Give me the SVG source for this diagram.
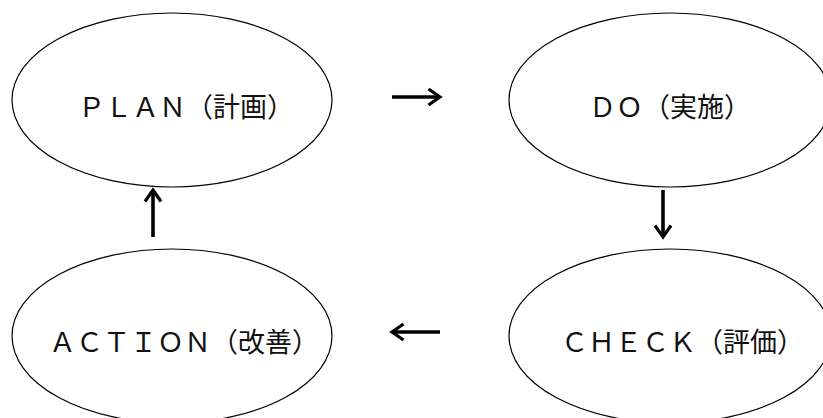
<svg xmlns="http://www.w3.org/2000/svg" width="823" height="418" viewBox="0 0 823 418">
  <style>
    .node ellipse { fill: #ffffff; stroke: #000000; stroke-width: 1.2; }
    .node text { font-family: "Noto Sans CJK JP", "Noto Sans", sans-serif; font-size: 27px; fill: #111111; }
    .conn path { fill: none; stroke: #000000; stroke-width: 3.6; }
  </style>
  <defs>
    <marker id="head" viewBox="0 0 16 20" refX="13" refY="10" markerWidth="16" markerHeight="20" markerUnits="userSpaceOnUse" orient="auto">
      <path d="M1.5,2 L13,10 L1.5,18" fill="none" stroke="#000000" stroke-width="3.2"/>
    </marker>
  </defs>
  <rect width="823" height="418" fill="#ffffff"/>
  <g id="plan" class="node">
    <ellipse cx="172" cy="100" rx="160" ry="87"/>
    <text x="78" y="117">ＰＬＡＮ（計画）</text>
  </g>
  <g id="do" class="node">
    <ellipse cx="670" cy="100" rx="161" ry="87"/>
    <text x="589" y="117">ＤＯ（実施）</text>
  </g>
  <g id="check" class="node">
    <ellipse cx="670" cy="336" rx="161" ry="87"/>
    <text x="561" y="352">ＣＨＥＣＫ（評価）</text>
  </g>
  <g id="action" class="node">
    <ellipse cx="172" cy="336" rx="160" ry="87"/>
    <text x="49" y="352">ＡＣＴＩＯＮ（改善）</text>
  </g>
  <g id="connectors" class="conn">
    <path d="M392,97 L440,97" marker-end="url(#head)"/>
    <path d="M663,190 L663,237" marker-end="url(#head)"/>
    <path d="M440,332 L392,332" marker-end="url(#head)"/>
    <path d="M153,237 L153,190" marker-end="url(#head)"/>
  </g>
</svg>
